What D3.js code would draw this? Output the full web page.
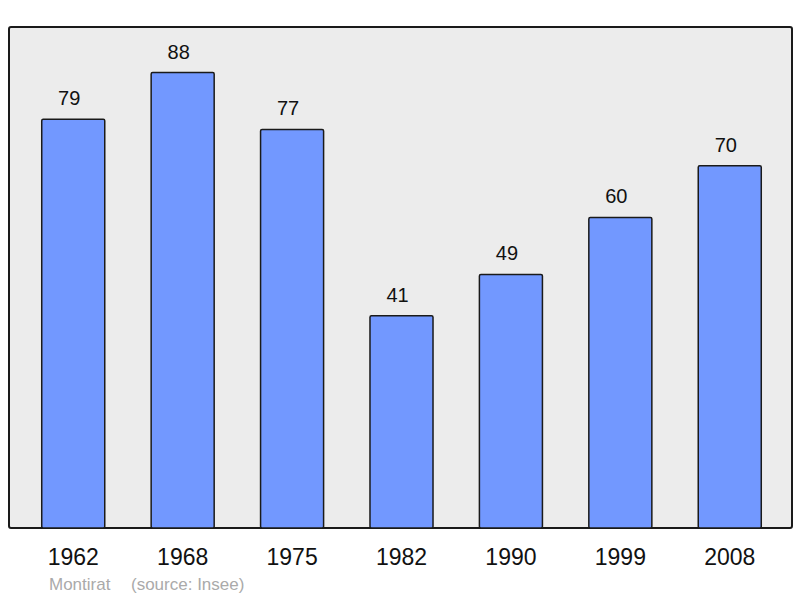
<!DOCTYPE html>
<html>
<head>
<meta charset="utf-8">
<script src="https://cdn.jsdelivr.net/npm/d3@7"></script>
<style>
  body { margin: 0; background: #fff; }
  text { font-family: "Liberation Sans", Arial, sans-serif; }
</style>
</head>
<body>
<svg id="chart" width="800" height="598"></svg>
<script>
const years = ["1962", "1968", "1975", "1982", "1990", "1999", "2008"];
const population = [79, 88, 77, 41, 49, 60, 70];
const townName = "Montirat";
const sourceLabel = "(source: Insee)";

const width = 800, height = 598;
const margin = { top: 27, right: 8, bottom: 70, left: 9 };

const svg = d3.select("#chart");

const x = d3.scaleBand()
  .domain(years)
  .range([margin.left + 1, width - margin.right + 1])
  .paddingInner(0.424)
  .paddingOuter(0.29);

const y = d3.scaleLinear()
  .domain([0, d3.max(population) * 1.1])
  .range([height - margin.bottom, margin.top]);

// plot frame
svg.append("rect")
  .attr("x", margin.left)
  .attr("y", margin.top)
  .attr("width", width - margin.left - margin.right)
  .attr("height", height - margin.top - margin.bottom)
  .attr("rx", 2)
  .attr("fill", "#ececec")
  .attr("stroke", "#1a1a1a")
  .attr("stroke-width", 2);

const data = years.map((yr, i) => ({ year: yr, value: population[i] }));

svg.selectAll("rect.bar")
  .data(data)
  .join("rect")
    .attr("class", "bar")
    .attr("x", d => x(d.year))
    .attr("y", d => y(d.value))
    .attr("width", x.bandwidth())
    .attr("height", d => y(0) - y(d.value))
    .attr("rx", 1.5)
    .attr("fill", "#7298ff")
    .attr("stroke", "#1a1a1a")
    .attr("stroke-width", 1.5);

// value labels sit a little left of bar centre, as in the original
svg.selectAll("text.value")
  .data(data)
  .join("text")
    .attr("class", "value")
    .attr("x", d => x(d.year) + x.bandwidth() / 2 - 4)
    .attr("y", d => y(d.value) - 14)
    .attr("text-anchor", "middle")
    .attr("font-size", 20)
    .attr("fill", "#111")
    .text(d => d.value);

// bottom axis, labels only
const axis = d3.axisBottom(x).tickSize(0).tickPadding(0);
svg.append("g")
  .attr("transform", `translate(0, ${ height - margin.bottom })`)
  .call(axis)
  .call(g => g.select(".domain").remove())
  .call(g => g.selectAll("text")
    .attr("dy", null)
    .attr("y", 37)
    .attr("font-size", 23)
    .attr("font-family", "Liberation Sans, Arial, sans-serif")
    .attr("fill", "#111"));

svg.append("text")
  .attr("x", 49)
  .attr("y", 590)
  .attr("font-size", 17)
  .attr("fill", "#aaa")
  .text(townName);

svg.append("text")
  .attr("x", 131)
  .attr("y", 590)
  .attr("font-size", 17)
  .attr("fill", "#aaa")
  .text(sourceLabel);
</script>
</body>
</html>
